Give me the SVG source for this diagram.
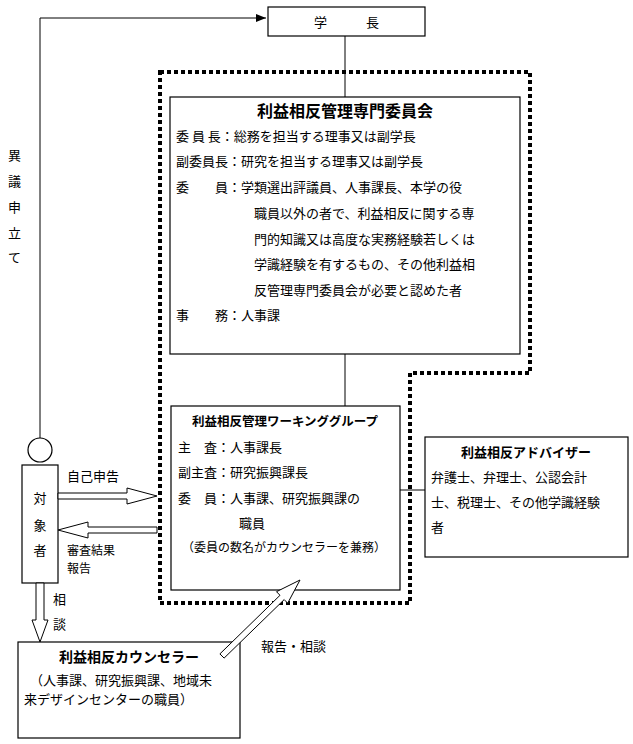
<svg xmlns="http://www.w3.org/2000/svg" width="633" height="744" viewBox="0 0 633 744">
<style>
text{font-family:"Noto Sans CJK JP",sans-serif;font-size:13px;fill:#000}
.b{font-weight:bold}
.box{fill:#fff;stroke:#000;stroke-width:1.2}
.ln{fill:none;stroke:#000;stroke-width:1}
.ha{fill:#fff;stroke:#000;stroke-width:1}
</style>
<defs><marker id="ah" markerWidth="10" markerHeight="8" refX="10" refY="4" orient="auto" markerUnits="userSpaceOnUse"><path d="M0,0 L10,4 L0,8 z" fill="#000"/></marker></defs>
<rect width="633" height="744" fill="#fff"/>
<g id="gakucho"><rect class="box" x="268" y="7" width="157" height="29"/><text x="346.5" y="27" text-anchor="middle">学　　　長</text></g>
<g id="committee"><rect class="box" x="170" y="97" width="350" height="257"/>
<text x="345" y="117" text-anchor="middle" class="b" style="font-size:16px">利益相反管理専門委員会</text>
<text x="176" y="141">委 員 長：総務を担当する理事又は副学長</text>
<text x="176" y="166">副委員長：研究を担当する理事又は副学長</text>
<text x="176" y="192">委　　員：学類選出評議員、人事課長、本学の役</text>
<text x="254" y="218">職員以外の者で、利益相反に関する専</text>
<text x="254" y="244">門的知識又は高度な実務経験若しくは</text>
<text x="254" y="269">学識経験を有するもの、その他利益相</text>
<text x="254" y="295">反管理専門委員会が必要と認めた者</text>
<text x="176" y="320">事　　務：人事課</text>
</g>
<g id="wg"><rect class="box" x="171" y="406" width="229" height="184"/>
<text x="285" y="426" text-anchor="middle" class="b" style="font-size:12.5px">利益相反管理ワーキンググループ</text>
<text x="178" y="452">主　査：人事課長</text>
<text x="178" y="477">副主査：研究振興課長</text>
<text x="178" y="503">委　員：人事課、研究振興課の</text>
<text x="239" y="528">職員</text>
<text x="182" y="552" style="font-size:12px">（委員の数名がカウンセラーを兼務）</text>
</g>
<g id="advisor"><rect class="box" x="425" y="437" width="203" height="120"/>
<text x="526" y="457" text-anchor="middle" class="b">利益相反アドバイザー</text>
<text x="431" y="482">弁護士、弁理士、公認会計</text>
<text x="431" y="507">士、税理士、その他学識経験</text>
<text x="431" y="532">者</text>
</g>
<g id="person"><circle class="box" cx="40" cy="450" r="12"/><rect class="box" x="22" y="465" width="36" height="118"/>
<text x="40" y="503" text-anchor="middle">対</text><text x="40" y="530" text-anchor="middle">象</text><text x="40" y="555" text-anchor="middle">者</text>
</g>
<g id="counselor"><rect class="box" x="18" y="642" width="222" height="96"/>
<text x="129" y="662" text-anchor="middle" class="b" style="font-size:14px">利益相反カウンセラー</text>
<text x="30" y="685">（人事課、研究振興課、地域未</text>
<text x="24" y="704">来デザインセンターの職員）</text>
</g>
<g id="connectors">
<path class="ln" d="M345,36 V97 M345,354 V406 M400,490 H425"/>
<path class="ln" d="M40,438 V18 H266" marker-end="url(#ah)"/>
<path d="M160,72 H530 V373 H410 V603 H160 Z" fill="none" stroke="#000" stroke-width="4" stroke-dasharray="4 3"/>
<path class="ha" d="M58,493 H127 V488 L157,496 L127,504 V499 H58 Z"/>
<path class="ha" d="M157,527 H88 V522 L58,530 L88,538 V533 H157 Z"/>
<path class="ha" d="M36,583 V620 H32 L40,642 L48,620 H44 V583 Z"/>
<path class="ha" d="M219.9,653.9 L280,595.3 L276.5,591.7 L300,580 L287.7,603.2 L284.2,599.6 L224.1,658.1 Z"/>
</g>
<g id="labels">
<text x="67" y="481">自己申告</text>
<text x="67" y="555" style="font-size:12px">審査結果</text>
<text x="67" y="573" style="font-size:12px">報告</text>
<text x="53" y="604">相</text>
<text x="53" y="629">談</text>
<text x="261" y="651">報告・相談</text>
<text x="8" y="160">異</text><text x="8" y="186">議</text><text x="8" y="212">申</text><text x="8" y="238">立</text><text x="8" y="262">て</text>
</g>
</svg>
